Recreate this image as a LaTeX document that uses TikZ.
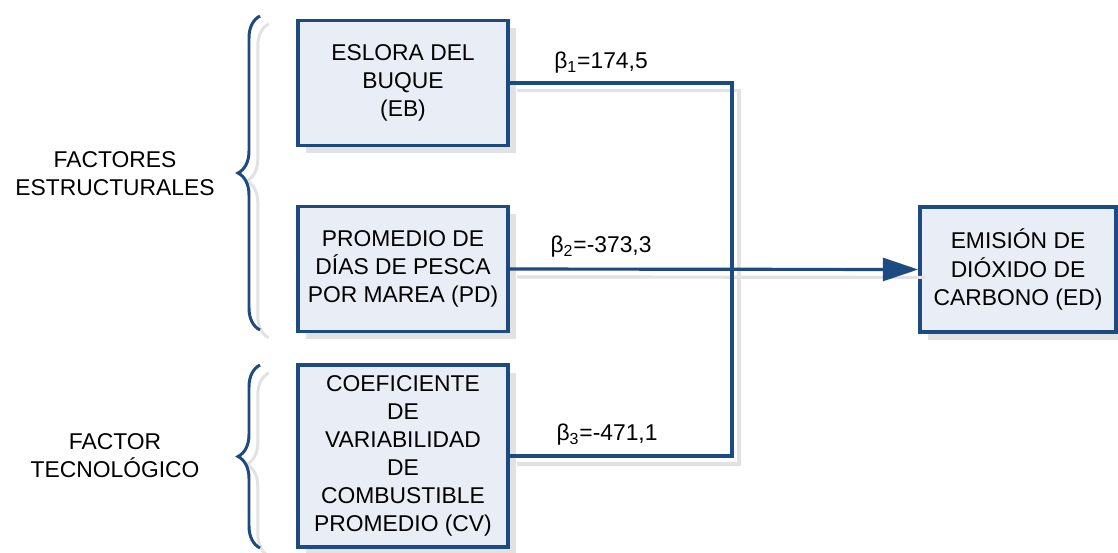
\documentclass[tikz,border=0pt]{standalone}
\usepackage{fontspec}
\setmainfont{Liberation Sans}
\usetikzlibrary{positioning, arrows.meta, decorations.pathreplacing, shadows}
\definecolor{navy}{RGB}{30,74,130}
\definecolor{boxfill}{RGB}{233,238,246}
\definecolor{shade}{RGB}{226,226,226}

\begin{document}
\begin{tikzpicture}[
		x=0.02cm, y=-0.02cm,
		font=\fontsize{13}{16}\selectfont,
		factor/.style={draw=navy, line width=2.2pt, fill=boxfill, align=center, minimum width=4.2cm, minimum height=2.5cm,
			drop shadow={shadow xshift=4.5pt, shadow yshift=-4.5pt, fill=shade, opacity=1}},
		link/.style={draw=navy, line width=1.8pt},
		linkshade/.style={draw=shade, line width=1.8pt, transform canvas={xshift=4pt, yshift=-4.5pt}},
		bracket/.style={draw=navy, line width=1.7pt, decorate, decoration={brace, amplitude=0.44cm}},
		bracketshade/.style={draw=shade, line width=1.7pt, decorate, decoration={brace, amplitude=0.44cm}, transform canvas={xshift=5pt, yshift=-4.5pt}},
	]
	\useasboundingbox (0,0) rectangle (1118,552);

	\draw[bracketshade] (260,330) -- (260,16);
	\draw[bracketshade] (260,548) -- (260,365);
	\draw[bracket] (260,330) -- (260,16);
	\draw[bracket] (260,548) -- (260,365);

	\node[align=center] (estruct) at (115,174) {FACTORES\\ESTRUCTURALES};
	\node[align=center] (tecno) at (115,456) {FACTOR\\TECNOLÓGICO};

	\coordinate (bus) at (732,0);
	\node[factor] (eb) at (403,83) {ESLORA DEL\\BUQUE\\(EB)};
	\node[factor] (pd) at (403,269) {PROMEDIO DE\\DÍAS DE PESCA\\POR MAREA (PD)};
	\node[factor, minimum height=3.64cm] (cv) at (403,456) {COEFICIENTE\\DE\\VARIABILIDAD\\DE\\COMBUSTIBLE\\PROMEDIO (CV)};
	\node[factor, minimum width=3.92cm] (ed) at (1018,269.5) {EMISIÓN DE\\DIÓXIDO DE\\CARBONO (ED)};

	\draw[linkshade] (eb.east) -- (eb.east -| bus) -- (cv.east -| bus) -- (cv.east);
	\draw[linkshade] (pd.east) -- (ed.west);
	\draw[link] (eb.east) -- (eb.east -| bus) -- (cv.east -| bus) -- (cv.east);
	\draw[link, -{Triangle[length=20pt, width=13pt]}] (pd.east) -- (ed.west);

	\node (beta1) at (601,63) {β\textsubscript{1}=174,5};
	\node (beta2) at (601,247) {β\textsubscript{2}=-373,3};
	\node (beta3) at (607,435) {β\textsubscript{3}=-471,1};
\end{tikzpicture}
\end{document}
